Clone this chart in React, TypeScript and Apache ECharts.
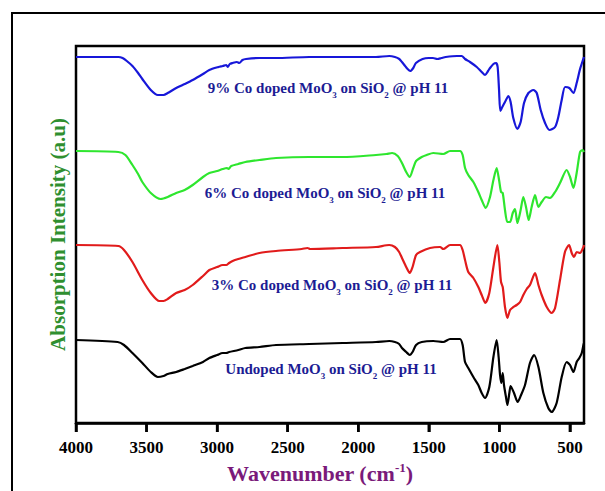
import React, { useEffect, useRef } from "react";
import * as echarts from "echarts";

// FTIR spectra: [wavenumber (cm-1), absorption intensity (a.u., stacked offset)]
const undoped: [number, number][] = [[4000,83],[3705,81],[3660,78],[3600,70],[3530,60],[3470,51],[3420,46],[3380,47],[3350,49],[3290,51],[3230,54],[3173,57],[3100,61],[3055,65],[3000,68],[2960,70],[2935,70],[2915,71],[2850,73],[2800,75],[2700,76],[2583,78],[2347,79],[2110,80],[1874,81],[1780,82],[1740,81],[1710,79],[1690,75],[1660,71],[1635,68],[1615,71],[1590,78],[1550,81],[1468,82],[1397,81],[1349,84],[1279,84],[1260,78],[1243,61],[1220,55],[1184,46],[1149,38],[1125,30],[1101,25],[1071,36],[1042,66],[1019,83],[1005,66],[995,48],[986,40],[976,50],[967,38],[953,26],[943,18],[929,30],[920,37],[896,30],[870,21],[846,28],[818,38],[783,60],[754,68],[723,56],[688,30],[653,15],[629,11],[594,20],[558,46],[523,61],[499,58],[475,51],[452,61],[433,65],[416,70],[404,78],[400,80]];
const co3: [number, number][] = [[4000,178],[3700,177],[3660,173],[3600,161],[3530,143],[3470,130],[3410,122],[3380,122],[3350,124],[3290,130],[3230,133],[3173,138],[3100,147],[3055,153],[3000,156],[2960,158],[2935,158],[2915,160],[2890,162],[2850,164],[2800,166],[2700,170],[2583,172],[2400,174],[2360,175],[2340,174],[2110,175],[1874,176],[1780,178],[1740,176],[1710,171],[1690,165],[1660,156],[1635,150],[1615,156],[1590,168],[1562,171],[1491,175],[1420,176],[1397,174],[1349,178],[1279,178],[1260,173],[1243,163],[1220,151],[1184,145],[1149,136],[1125,128],[1099,120],[1071,130],[1042,156],[1014,178],[1000,161],[988,141],[976,136],[960,116],[943,105],[924,113],[901,116],[877,118],[853,121],[830,128],[806,134],[783,138],[747,150],[723,138],[700,128],[664,116],[629,110],[605,115],[570,143],[535,171],[506,178],[487,170],[471,166],[452,171],[428,170],[404,176],[400,178]];
const co6: [number, number][] = [[4000,272],[3700,271],[3650,268],[3600,258],[3560,249],[3530,241],[3470,230],[3400,224],[3350,226],[3290,230],[3230,233],[3173,238],[3100,246],[3055,250],[3000,252],[2960,254],[2930,255],[2920,254],[2900,257],[2850,259],[2800,261],[2700,263],[2583,265],[2347,266],[2110,266],[1874,268],[1800,269],[1760,270],[1720,267],[1690,260],[1660,251],[1635,246],[1610,255],[1590,262],[1550,266],[1515,268],[1468,270],[1397,269],[1349,272],[1279,272],[1260,268],[1243,255],[1220,248],[1184,241],[1149,231],[1125,223],[1097,215],[1066,226],[1042,243],[1019,255],[1002,243],[988,231],[976,230],[960,213],[943,201],[924,201],[905,210],[889,214],[872,200],[849,213],[830,226],[811,216],[792,203],[771,216],[747,228],[723,216],[700,221],[669,226],[641,225],[605,231],[570,240],[523,253],[499,246],[475,235],[452,250],[428,271],[409,273],[400,271]];
const co9: [number, number][] = [[4000,366],[3700,366],[3670,365],[3640,362],[3600,357],[3560,350],[3530,344],[3470,333],[3420,328],[3380,328],[3350,330],[3290,335],[3230,339],[3173,343],[3100,349],[3055,353],[2990,356],[2960,357],[2935,358],[2925,356],[2910,359],[2890,360],[2860,361],[2843,360],[2820,363],[2795,364],[2700,365],[2583,365],[2347,366],[2110,366],[1874,366],[1780,367],[1740,366],[1709,364],[1690,361],[1673,358],[1650,354],[1631,352],[1610,355],[1591,360],[1544,364],[1500,365],[1470,365],[1440,364],[1410,365],[1380,366],[1300,367],[1267,367],[1243,364],[1208,361],[1160,356],[1125,351],[1101,348],[1080,352],[1066,355],[1042,359],[1023,360],[1012,356],[1002,333],[993,312],[979,316],[960,321],[936,327],[920,321],[901,305],[872,294],[849,301],[825,320],[794,330],[759,333],[735,330],[707,313],[676,300],[645,293],[605,296],[582,306],[558,323],[534,336],[504,335],[475,330],[452,340],[428,354],[412,361],[400,366]];

const tickValues = [4000, 3500, 3000, 2500, 2000, 1500, 1000, 500];
const seriesNames = ["Undoped", "3% Co", "6% Co", "9% Co"];
const seriesColors = ["#000000", "#e11b1b", "#2ee62e", "#1717d9"];
const labelPrefixes = ["Undoped MoO", "3% Co doped MoO", "6% Co doped MoO", "9% Co doped MoO"];

const FONT = "'Liberation Serif', 'Times New Roman', serif";

export default function App() {
  const ref = useRef<HTMLDivElement>(null);
  useEffect(() => {
    if (!ref.current) return;
    const chart = echarts.init(ref.current, undefined, { renderer: "svg" });
    const datasets = [undoped, co3, co6, co9];
    const labelPos = [
      { x: 331, y: 369 },
      { x: 332, y: 285 },
      { x: 325, y: 193 },
      { x: 328, y: 88 },
    ];
    const subRich = {
      a: { fontSize: 15, fontWeight: "bold", fontFamily: FONT, fill: "#1c1c94", lineHeight: 22, verticalAlign: "middle" },
      s: { fontSize: 9, fontWeight: "bold", fontFamily: FONT, fill: "#1c1c94", verticalAlign: "bottom" },
    };
    chart.setOption({
      animation: false,
      backgroundColor: "#ffffff",
      grid: { left: 76, top: 46, width: 508, height: 377, show: true, borderColor: "#000", borderWidth: 2.5, backgroundColor: "transparent" },
      xAxis: {
        type: "value",
        inverse: true,
        min: 400,
        max: 4000,
        name: "{a|Wavenumber (cm}{p|-1}{a|)}",
        nameLocation: "middle",
        nameGap: 36,
        nameTextStyle: {
          padding: [0, 20, 0, 0],
          rich: {
            a: { fontSize: 22, fontWeight: "bold", fontFamily: FONT, color: "#7a1a7a", lineHeight: 26, verticalAlign: "middle" },
            p: { fontSize: 13, fontWeight: "bold", fontFamily: FONT, color: "#7a1a7a", verticalAlign: "top" },
          },
        },
        axisLine: { show: true, lineStyle: { color: "#000", width: 2.5 } },
        axisTick: { show: true, inside: false, length: 9, lineStyle: { color: "#000", width: 2.5 }, customValues: tickValues },
        axisLabel: {
          show: true, margin: 16, fontSize: 17, fontWeight: "bold", fontFamily: FONT, color: "#000",
          customValues: tickValues, formatter: (v: number) => String(v),
        },
        splitLine: { show: false },
      },
      yAxis: {
        type: "value",
        min: 0,
        max: 377,
        name: "Absorption Intensity (a.u)",
        nameLocation: "middle",
        nameGap: 8,
        nameTextStyle: { fontSize: 21, fontWeight: "bold", fontFamily: FONT, color: "#2f8f2f" },
        axisLine: { show: false },
        axisTick: { show: false },
        axisLabel: { show: false },
        splitLine: { show: false },
      },
      series: [
        ...datasets.map((d, i) => ({
          type: "line",
          name: seriesNames[i],
          data: d,
          showSymbol: false,
          smooth: 0.25,
          lineStyle: { color: seriesColors[i], width: 2.2 },
          itemStyle: { color: seriesColors[i] },
          z: 3,
        })),
        {
          type: "custom",
          name: "ticks",
          data: tickValues.map((v) => [v, 0]),
          encode: { x: 0, y: 1 },
          clip: false,
          silent: true,
          z: 10,
          renderItem: (params: any, api: any) => {
            const p = api.coord([api.value(0), api.value(1)]);
            return {
              type: "line",
              shape: { x1: p[0], y1: p[1], x2: p[0], y2: p[1] + 9 },
              style: { stroke: "#000", lineWidth: 2.5 },
            };
          },
        },
      ],
      graphic: [
        {
          type: "rect",
          shape: { x: 12, y: 13, width: 620, height: 520 },
          style: { fill: "none", stroke: "#000", lineWidth: 2 },
          z: 100,
        },
        ...labelPrefixes.map((p, i) => ({
          type: "text",
          x: labelPos[i].x,
          y: labelPos[i].y,
          style: {
            text: `{a|${p}}{s|3}{a| on SiO}{s|2}{a| @ pH 11}`,
            rich: subRich,
            align: "center",
            verticalAlign: "middle",
          },
          z: 50,
        })),
      ],
    });
    return () => chart.dispose();
  }, []);
  return <div ref={ref} style={{ position: "fixed", left: 0, top: 0, width: 605, height: 491 }} />;
}
